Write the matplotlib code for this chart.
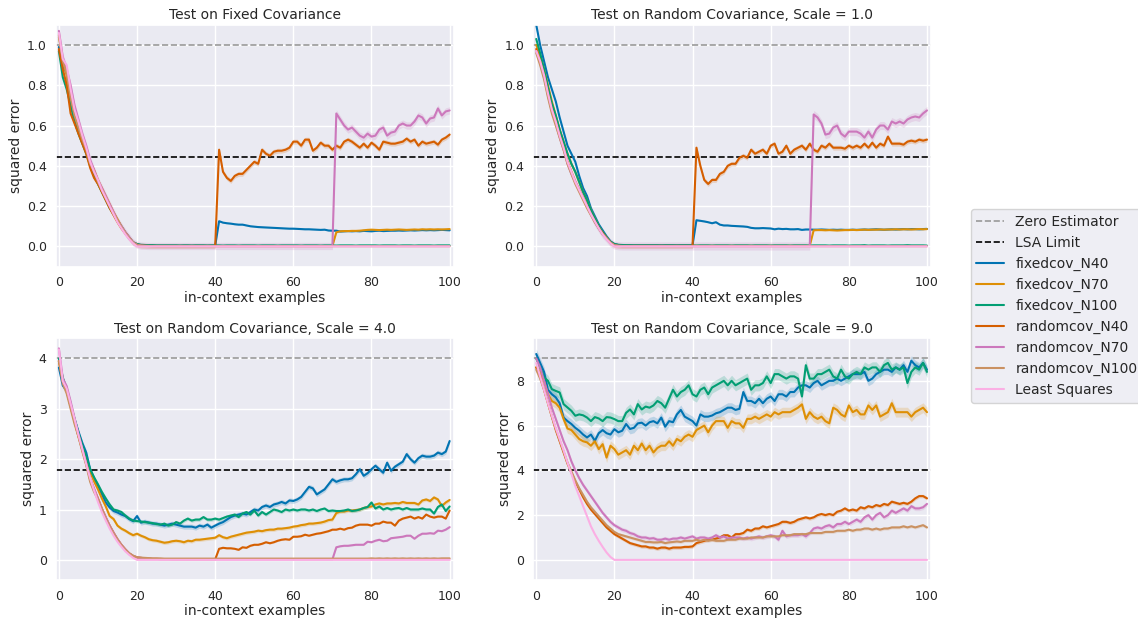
import numpy as np
import matplotlib
matplotlib.use('Agg')
import matplotlib.pyplot as plt
import seaborn as sns

sns.set_theme(style='darkgrid')
plt.rcParams['font.family'] = ['DejaVu Sans']

# in-context examples 0..100
n_examples = np.arange(101)

series_names = ['fixedcov_N40', 'fixedcov_N70', 'fixedcov_N100',
                'randomcov_N40', 'randomcov_N70', 'randomcov_N100', 'Least Squares']
colors = sns.color_palette('colorblind')[:7]

# ---------------------------------------------------------------------------
# Test on Fixed Covariance
# ---------------------------------------------------------------------------
fc_fixed40 = [
    0.99, 0.90, 0.86, 0.72, 0.63, 0.58, 0.53, 0.47, 0.41, 0.36,
    0.32, 0.28, 0.24, 0.20, 0.165, 0.13, 0.10, 0.07, 0.045, 0.02,
    0.01, 0.006, 0.005, 0.004, 0.004, 0.003, 0.003, 0.003, 0.003, 0.003,
    0.003, 0.003, 0.003, 0.003, 0.003, 0.003, 0.003, 0.003, 0.003, 0.003,
    0.003, 0.125, 0.118, 0.115, 0.113, 0.110, 0.108, 0.108, 0.104, 0.100,
    0.098, 0.096, 0.095, 0.094, 0.093, 0.092, 0.091, 0.090, 0.089, 0.088,
    0.088, 0.087, 0.086, 0.085, 0.085, 0.084, 0.083, 0.082, 0.083, 0.079,
    0.078, 0.078, 0.074, 0.075, 0.076, 0.075, 0.076, 0.075, 0.077, 0.076,
    0.075, 0.077, 0.078, 0.076, 0.077, 0.078, 0.078, 0.079, 0.078, 0.079,
    0.080, 0.079, 0.080, 0.081, 0.080, 0.081, 0.080, 0.081, 0.082, 0.081,
    0.080]
fc_fixed70 = [
    1.05, 0.92, 0.85, 0.72, 0.64, 0.59, 0.54, 0.49, 0.42, 0.38,
    0.33, 0.29, 0.25, 0.21, 0.17, 0.135, 0.10, 0.07, 0.045, 0.02,
    0.01, 0.005, 0.004, 0.003, 0.003, 0.002, 0.002, 0.002, 0.002, 0.002,
    0.002, 0.002, 0.002, 0.002, 0.002, 0.002, 0.002, 0.002, 0.002, 0.002,
    0.002, 0.002, 0.002, 0.002, 0.002, 0.002, 0.002, 0.002, 0.002, 0.002,
    0.002, 0.002, 0.002, 0.002, 0.002, 0.002, 0.002, 0.002, 0.002, 0.002,
    0.002, 0.002, 0.002, 0.002, 0.002, 0.002, 0.002, 0.002, 0.002, 0.002,
    0.002, 0.070, 0.075, 0.076, 0.076, 0.077, 0.077, 0.078, 0.080, 0.082,
    0.083, 0.082, 0.081, 0.082, 0.083, 0.082, 0.083, 0.084, 0.083, 0.082,
    0.083, 0.084, 0.083, 0.085, 0.084, 0.085, 0.084, 0.085, 0.084, 0.085,
    0.086]
fc_fixed100 = [
    0.97, 0.84, 0.78, 0.70, 0.62, 0.56, 0.51, 0.46, 0.40, 0.35,
    0.31, 0.27, 0.23, 0.19, 0.16, 0.125, 0.095, 0.065, 0.04, 0.02,
    0.012, 0.008, 0.007, 0.006, 0.006, 0.005, 0.005, 0.005, 0.005, 0.005,
    0.005, 0.004, 0.005, 0.005, 0.004, 0.005, 0.005, 0.005, 0.004, 0.005,
    0.005, 0.005, 0.004, 0.005, 0.005, 0.005, 0.004, 0.005, 0.005, 0.005,
    0.005, 0.004, 0.005, 0.005, 0.005, 0.005, 0.004, 0.005, 0.005, 0.005,
    0.005, 0.005, 0.004, 0.005, 0.005, 0.005, 0.005, 0.004, 0.005, 0.005,
    0.005, 0.004, 0.005, 0.005, 0.005, 0.005, 0.004, 0.005, 0.005, 0.005,
    0.005, 0.005, 0.004, 0.005, 0.005, 0.005, 0.005, 0.004, 0.005, 0.005,
    0.005, 0.004, 0.005, 0.005, 0.005, 0.005, 0.004, 0.005, 0.005, 0.005,
    0.005]
fc_random40 = [
    0.98, 0.88, 0.80, 0.66, 0.61, 0.56, 0.51, 0.46, 0.39, 0.34,
    0.31, 0.27, 0.23, 0.19, 0.155, 0.12, 0.09, 0.065, 0.04, 0.018,
    0.008, 0.004, 0.003, 0.002, 0.002, 0.002, 0.002, 0.002, 0.002, 0.002,
    0.002, 0.002, 0.002, 0.002, 0.002, 0.002, 0.002, 0.002, 0.002, 0.002,
    0.002, 0.48, 0.37, 0.34, 0.325, 0.35, 0.36, 0.36, 0.38, 0.40,
    0.42, 0.41, 0.48, 0.46, 0.45, 0.47, 0.475, 0.475, 0.48, 0.49,
    0.52, 0.52, 0.50, 0.53, 0.53, 0.475, 0.49, 0.515, 0.50, 0.50,
    0.48, 0.50, 0.49, 0.52, 0.53, 0.52, 0.505, 0.49, 0.51, 0.49,
    0.515, 0.50, 0.48, 0.52, 0.515, 0.51, 0.51, 0.515, 0.52, 0.535,
    0.52, 0.53, 0.50, 0.52, 0.51, 0.515, 0.52, 0.505, 0.53, 0.54,
    0.555]
fc_random70 = [
    1.07, 0.94, 0.88, 0.80, 0.70, 0.63, 0.56, 0.50, 0.43, 0.38,
    0.33, 0.29, 0.25, 0.21, 0.17, 0.13, 0.10, 0.07, 0.045, 0.02,
    0.008, 0.004, 0.003, 0.002, 0.002, 0.002, 0.002, 0.002, 0.002, 0.002,
    0.002, 0.002, 0.002, 0.002, 0.002, 0.002, 0.002, 0.002, 0.002, 0.002,
    0.002, 0.002, 0.002, 0.002, 0.002, 0.002, 0.002, 0.002, 0.002, 0.002,
    0.002, 0.002, 0.002, 0.002, 0.002, 0.002, 0.002, 0.002, 0.002, 0.002,
    0.002, 0.002, 0.002, 0.002, 0.002, 0.002, 0.002, 0.002, 0.002, 0.002,
    0.002, 0.66, 0.63, 0.60, 0.58, 0.59, 0.57, 0.55, 0.54, 0.56,
    0.545, 0.55, 0.58, 0.59, 0.55, 0.565, 0.57, 0.60, 0.61, 0.60,
    0.60, 0.62, 0.65, 0.64, 0.61, 0.635, 0.64, 0.685, 0.65, 0.67,
    0.675]
fc_random100 = [
    1.04, 0.92, 0.86, 0.74, 0.65, 0.59, 0.53, 0.48, 0.41, 0.37,
    0.32, 0.28, 0.24, 0.20, 0.16, 0.13, 0.095, 0.065, 0.04, 0.018,
    0.006, 0.003, 0.002, 0.002, 0.001, 0.001, 0.001, 0.001, 0.001, 0.001,
    0.001, 0.001, 0.001, 0.001, 0.001, 0.001, 0.001, 0.001, 0.001, 0.001,
    0.001, 0.001, 0.001, 0.001, 0.001, 0.001, 0.001, 0.001, 0.001, 0.001,
    0.001, 0.001, 0.001, 0.001, 0.001, 0.001, 0.001, 0.001, 0.001, 0.001,
    0.001, 0.001, 0.001, 0.001, 0.001, 0.001, 0.001, 0.001, 0.001, 0.001,
    0.001, 0.001, 0.001, 0.001, 0.001, 0.001, 0.001, 0.001, 0.001, 0.001,
    0.001, 0.001, 0.001, 0.001, 0.001, 0.001, 0.001, 0.001, 0.001, 0.001,
    0.001, 0.001, 0.001, 0.001, 0.001, 0.001, 0.001, 0.001, 0.001, 0.001,
    0.001]
fc_ls = [
    1.06, 0.93, 0.90, 0.78, 0.68, 0.62, 0.55, 0.49, 0.42, 0.37,
    0.33, 0.28, 0.24, 0.20, 0.16, 0.12, 0.09, 0.06, 0.035, 0.015,
    0.0, 0.0, 0.0, 0.0, 0.0, 0.0, 0.0, 0.0, 0.0, 0.0,
    0.0, 0.0, 0.0, 0.0, 0.0, 0.0, 0.0, 0.0, 0.0, 0.0,
    0.0, 0.0, 0.0, 0.0, 0.0, 0.0, 0.0, 0.0, 0.0, 0.0,
    0.0, 0.0, 0.0, 0.0, 0.0, 0.0, 0.0, 0.0, 0.0, 0.0,
    0.0, 0.0, 0.0, 0.0, 0.0, 0.0, 0.0, 0.0, 0.0, 0.0,
    0.0, 0.0, 0.0, 0.0, 0.0, 0.0, 0.0, 0.0, 0.0, 0.0,
    0.0, 0.0, 0.0, 0.0, 0.0, 0.0, 0.0, 0.0, 0.0, 0.0,
    0.0, 0.0, 0.0, 0.0, 0.0, 0.0, 0.0, 0.0, 0.0, 0.0,
    0.0]
fc_ci = [0.003, 0.003, 0.001, 0.012, 0.018, 0.001, 0.0]

# ---------------------------------------------------------------------------
# Test on Random Covariance, Scale = 1.0
# ---------------------------------------------------------------------------
s1_fixed40 = [
    1.10, 1.00, 0.92, 0.84, 0.78, 0.72, 0.64, 0.57, 0.50, 0.46,
    0.42, 0.35, 0.29, 0.25, 0.19, 0.15, 0.11, 0.08, 0.05, 0.025,
    0.012, 0.007, 0.006, 0.005, 0.005, 0.005, 0.005, 0.005, 0.005, 0.005,
    0.005, 0.005, 0.005, 0.005, 0.005, 0.005, 0.005, 0.005, 0.005, 0.005,
    0.005, 0.130, 0.127, 0.124, 0.120, 0.115, 0.120, 0.108, 0.104, 0.104,
    0.102, 0.101, 0.100, 0.099, 0.097, 0.092, 0.090, 0.090, 0.091, 0.090,
    0.089, 0.085, 0.088, 0.086, 0.087, 0.085, 0.085, 0.086, 0.082, 0.084,
    0.084, 0.083, 0.083, 0.084, 0.083, 0.082, 0.083, 0.082, 0.083, 0.082,
    0.082, 0.083, 0.082, 0.083, 0.084, 0.083, 0.084, 0.085, 0.084, 0.083,
    0.084, 0.085, 0.084, 0.085, 0.086, 0.085, 0.086, 0.086, 0.085, 0.086,
    0.087]
s1_fixed70 = [
    1.00, 0.95, 0.88, 0.80, 0.72, 0.65, 0.58, 0.52, 0.46, 0.41,
    0.37, 0.32, 0.27, 0.23, 0.18, 0.14, 0.10, 0.07, 0.045, 0.022,
    0.01, 0.005, 0.004, 0.003, 0.003, 0.003, 0.003, 0.003, 0.003, 0.003,
    0.003, 0.003, 0.003, 0.003, 0.003, 0.003, 0.003, 0.003, 0.003, 0.003,
    0.003, 0.003, 0.003, 0.003, 0.003, 0.003, 0.003, 0.003, 0.003, 0.003,
    0.003, 0.003, 0.003, 0.003, 0.003, 0.003, 0.003, 0.003, 0.003, 0.003,
    0.003, 0.003, 0.003, 0.003, 0.003, 0.003, 0.003, 0.003, 0.003, 0.003,
    0.003, 0.080, 0.081, 0.081, 0.080, 0.081, 0.080, 0.079, 0.080, 0.081,
    0.081, 0.082, 0.081, 0.082, 0.083, 0.082, 0.083, 0.083, 0.084, 0.083,
    0.084, 0.084, 0.085, 0.084, 0.085, 0.085, 0.084, 0.085, 0.086, 0.085,
    0.086]
s1_fixed100 = [
    1.03, 0.96, 0.88, 0.79, 0.71, 0.65, 0.58, 0.52, 0.46, 0.41,
    0.37, 0.32, 0.27, 0.23, 0.18, 0.14, 0.10, 0.07, 0.045, 0.022,
    0.012, 0.008, 0.007, 0.006, 0.006, 0.005, 0.005, 0.005, 0.005, 0.005,
    0.005, 0.005, 0.004, 0.005, 0.005, 0.005, 0.004, 0.005, 0.005, 0.005,
    0.005, 0.004, 0.005, 0.005, 0.005, 0.004, 0.005, 0.005, 0.005, 0.005,
    0.004, 0.005, 0.005, 0.005, 0.005, 0.004, 0.005, 0.005, 0.005, 0.005,
    0.004, 0.005, 0.005, 0.005, 0.005, 0.004, 0.005, 0.005, 0.005, 0.005,
    0.004, 0.005, 0.005, 0.005, 0.005, 0.004, 0.005, 0.005, 0.005, 0.005,
    0.004, 0.005, 0.005, 0.005, 0.006, 0.004, 0.005, 0.005, 0.005, 0.005,
    0.004, 0.005, 0.005, 0.005, 0.005, 0.006, 0.005, 0.005, 0.005, 0.005,
    0.004]
s1_random40 = [
    0.98, 0.92, 0.85, 0.76, 0.68, 0.62, 0.55, 0.49, 0.42, 0.37,
    0.32, 0.28, 0.24, 0.20, 0.16, 0.125, 0.09, 0.065, 0.04, 0.018,
    0.006, 0.003, 0.002, 0.002, 0.002, 0.002, 0.002, 0.002, 0.002, 0.002,
    0.002, 0.002, 0.002, 0.002, 0.002, 0.002, 0.002, 0.002, 0.002, 0.002,
    0.002, 0.49, 0.40, 0.33, 0.31, 0.33, 0.33, 0.36, 0.37, 0.40,
    0.41, 0.41, 0.44, 0.45, 0.44, 0.48, 0.46, 0.47, 0.48, 0.46,
    0.50, 0.51, 0.46, 0.47, 0.50, 0.46, 0.48, 0.49, 0.50, 0.48,
    0.51, 0.48, 0.47, 0.50, 0.49, 0.51, 0.49, 0.49, 0.49, 0.485,
    0.50, 0.49, 0.50, 0.49, 0.51, 0.49, 0.515, 0.49, 0.51, 0.50,
    0.545, 0.51, 0.51, 0.51, 0.505, 0.52, 0.525, 0.52, 0.53, 0.525,
    0.53]
s1_random70 = [
    0.97, 0.91, 0.84, 0.75, 0.67, 0.61, 0.54, 0.48, 0.41, 0.36,
    0.32, 0.28, 0.24, 0.20, 0.16, 0.12, 0.09, 0.06, 0.04, 0.018,
    0.006, 0.003, 0.002, 0.002, 0.002, 0.002, 0.002, 0.002, 0.002, 0.002,
    0.002, 0.002, 0.002, 0.002, 0.002, 0.002, 0.002, 0.002, 0.002, 0.002,
    0.002, 0.002, 0.002, 0.002, 0.002, 0.002, 0.002, 0.002, 0.002, 0.002,
    0.002, 0.002, 0.002, 0.002, 0.002, 0.002, 0.002, 0.002, 0.002, 0.002,
    0.002, 0.002, 0.002, 0.002, 0.002, 0.002, 0.002, 0.002, 0.002, 0.002,
    0.002, 0.655, 0.64, 0.61, 0.555, 0.56, 0.59, 0.60, 0.56, 0.545,
    0.57, 0.57, 0.57, 0.56, 0.54, 0.57, 0.54, 0.58, 0.60, 0.60,
    0.58, 0.62, 0.61, 0.62, 0.61, 0.63, 0.64, 0.645, 0.64, 0.66,
    0.675]
s1_random100 = [
    0.96, 0.90, 0.83, 0.74, 0.66, 0.60, 0.54, 0.48, 0.41, 0.36,
    0.31, 0.27, 0.23, 0.19, 0.155, 0.12, 0.09, 0.06, 0.04, 0.018,
    0.005, 0.002, 0.001, 0.001, 0.001, 0.001, 0.001, 0.001, 0.001, 0.001,
    0.001, 0.001, 0.001, 0.001, 0.001, 0.001, 0.001, 0.001, 0.001, 0.001,
    0.001, 0.001, 0.001, 0.001, 0.001, 0.001, 0.001, 0.001, 0.001, 0.001,
    0.001, 0.001, 0.001, 0.001, 0.001, 0.001, 0.001, 0.001, 0.001, 0.001,
    0.001, 0.001, 0.001, 0.001, 0.001, 0.001, 0.001, 0.001, 0.001, 0.001,
    0.001, 0.001, 0.001, 0.001, 0.001, 0.001, 0.001, 0.001, 0.001, 0.001,
    0.001, 0.001, 0.001, 0.001, 0.001, 0.001, 0.001, 0.001, 0.001, 0.001,
    0.001, 0.001, 0.001, 0.001, 0.001, 0.001, 0.001, 0.001, 0.001, 0.001,
    0.001]
s1_ls = [
    0.97, 0.92, 0.85, 0.76, 0.68, 0.62, 0.55, 0.49, 0.42, 0.37,
    0.32, 0.28, 0.24, 0.20, 0.16, 0.125, 0.09, 0.06, 0.035, 0.015,
    0.0, 0.0, 0.0, 0.0, 0.0, 0.0, 0.0, 0.0, 0.0, 0.0,
    0.0, 0.0, 0.0, 0.0, 0.0, 0.0, 0.0, 0.0, 0.0, 0.0,
    0.0, 0.0, 0.0, 0.0, 0.0, 0.0, 0.0, 0.0, 0.0, 0.0,
    0.0, 0.0, 0.0, 0.0, 0.0, 0.0, 0.0, 0.0, 0.0, 0.0,
    0.0, 0.0, 0.0, 0.0, 0.0, 0.0, 0.0, 0.0, 0.0, 0.0,
    0.0, 0.0, 0.0, 0.0, 0.0, 0.0, 0.0, 0.0, 0.0, 0.0,
    0.0, 0.0, 0.0, 0.0, 0.0, 0.0, 0.0, 0.0, 0.0, 0.0,
    0.0, 0.0, 0.0, 0.0, 0.0, 0.0, 0.0, 0.0, 0.0, 0.0,
    0.0]
s1_ci = [0.003, 0.003, 0.001, 0.012, 0.02, 0.001, 0.0]

# ---------------------------------------------------------------------------
# Test on Random Covariance, Scale = 4.0
# ---------------------------------------------------------------------------
s4_fixed40 = [
    3.82, 3.46, 3.36, 3.06, 2.80, 2.55, 2.32, 2.13, 1.80, 1.62,
    1.47, 1.30, 1.14, 1.04, 0.97, 0.94, 0.90, 0.87, 0.81, 0.77,
    0.87, 0.74, 0.76, 0.74, 0.72, 0.72, 0.70, 0.68, 0.70, 0.72,
    0.70, 0.68, 0.66, 0.66, 0.66, 0.64, 0.68, 0.66, 0.70, 0.64,
    0.68, 0.72, 0.75, 0.80, 0.85, 0.88, 0.90, 0.92, 0.90, 0.95,
    1.00, 0.98, 1.05, 1.08, 1.05, 1.10, 1.12, 1.15, 1.12, 1.18,
    1.17, 1.20, 1.25, 1.35, 1.45, 1.42, 1.30, 1.35, 1.40, 1.50,
    1.60, 1.55, 1.58, 1.60, 1.60, 1.62, 1.70, 1.80, 1.67, 1.72,
    1.80, 1.87, 1.80, 1.73, 1.93, 1.77, 1.85, 1.90, 1.95, 2.10,
    2.00, 1.93, 2.02, 2.07, 2.05, 2.05, 2.07, 2.13, 2.10, 2.15,
    2.36]
s4_fixed70 = [
    3.95, 3.60, 3.35, 3.05, 2.75, 2.48, 2.22, 1.98, 1.75, 1.56,
    1.40, 1.22, 1.06, 0.87, 0.81, 0.68, 0.62, 0.58, 0.53, 0.49,
    0.52, 0.48, 0.45, 0.41, 0.39, 0.38, 0.36, 0.34, 0.35, 0.37,
    0.38, 0.37, 0.35, 0.38, 0.37, 0.40, 0.40, 0.41, 0.42, 0.43,
    0.44, 0.49, 0.45, 0.43, 0.46, 0.48, 0.50, 0.52, 0.54, 0.55,
    0.56, 0.58, 0.57, 0.59, 0.60, 0.60, 0.62, 0.62, 0.63, 0.64,
    0.66, 0.67, 0.69, 0.70, 0.72, 0.72, 0.73, 0.74, 0.76, 0.79,
    0.80, 0.93, 0.96, 0.96, 0.98, 0.98, 0.99, 1.00, 1.03, 1.05,
    1.06, 1.10, 1.12, 1.10, 1.12, 1.12, 1.13, 1.12, 1.15, 1.13,
    1.13, 1.13, 1.10, 1.18, 1.20, 1.17, 1.24, 1.20, 1.07, 1.14,
    1.19]
s4_fixed100 = [
    4.00, 3.62, 3.40, 3.10, 2.80, 2.52, 2.28, 2.05, 1.80, 1.64,
    1.50, 1.35, 1.22, 1.10, 1.00, 0.98, 0.95, 0.88, 0.82, 0.78,
    0.77, 0.76, 0.75, 0.74, 0.73, 0.71, 0.70, 0.72, 0.68, 0.70,
    0.75, 0.72, 0.78, 0.82, 0.78, 0.80, 0.80, 0.85, 0.80, 0.80,
    0.82, 0.80, 0.83, 0.86, 0.88, 0.90, 0.85, 0.92, 0.95, 0.90,
    0.98, 0.88, 0.95, 0.90, 0.95, 1.00, 0.98, 0.95, 1.00, 0.98,
    1.00, 0.98, 1.00, 1.00, 0.98, 1.00, 0.97, 1.00, 1.02, 0.97,
    0.98, 0.97, 0.97, 0.98, 1.00, 0.97, 0.98, 1.00, 1.03, 1.05,
    1.14, 1.02, 1.06, 1.00, 1.03, 1.00, 1.02, 1.03, 1.00, 1.03,
    1.00, 1.00, 1.00, 1.02, 1.00, 1.00, 0.92, 1.05, 1.10, 0.97,
    1.06]
s4_random40 = [
    3.95, 3.55, 3.35, 3.05, 2.75, 2.45, 2.18, 1.90, 1.60, 1.40,
    1.22, 1.02, 0.84, 0.68, 0.54, 0.41, 0.30, 0.21, 0.13, 0.08,
    0.05, 0.04, 0.03, 0.025, 0.02, 0.02, 0.015, 0.015, 0.015, 0.01,
    0.01, 0.01, 0.01, 0.01, 0.01, 0.01, 0.01, 0.01, 0.01, 0.01,
    0.01, 0.22, 0.24, 0.23, 0.23, 0.22, 0.20, 0.25, 0.24, 0.28,
    0.30, 0.30, 0.32, 0.35, 0.33, 0.35, 0.38, 0.40, 0.41, 0.40,
    0.46, 0.46, 0.47, 0.50, 0.48, 0.50, 0.52, 0.53, 0.55, 0.57,
    0.60, 0.60, 0.62, 0.60, 0.63, 0.64, 0.68, 0.70, 0.70, 0.70,
    0.68, 0.72, 0.72, 0.76, 0.74, 0.74, 0.68, 0.78, 0.82, 0.84,
    0.86, 0.82, 0.85, 0.82, 0.90, 0.86, 0.84, 0.86, 0.86, 0.82,
    0.98]
s4_random70 = [
    4.20, 3.60, 3.45, 3.15, 2.82, 2.50, 2.20, 1.92, 1.62, 1.42,
    1.22, 1.02, 0.85, 0.68, 0.54, 0.41, 0.30, 0.21, 0.13, 0.08,
    0.05, 0.04, 0.03, 0.025, 0.02, 0.02, 0.015, 0.015, 0.015, 0.01,
    0.01, 0.01, 0.01, 0.01, 0.01, 0.01, 0.01, 0.01, 0.01, 0.01,
    0.01, 0.01, 0.01, 0.01, 0.01, 0.01, 0.01, 0.01, 0.01, 0.01,
    0.01, 0.01, 0.01, 0.01, 0.01, 0.01, 0.01, 0.01, 0.01, 0.01,
    0.01, 0.01, 0.01, 0.01, 0.01, 0.01, 0.01, 0.01, 0.01, 0.01,
    0.01, 0.25, 0.27, 0.28, 0.28, 0.29, 0.30, 0.30, 0.30, 0.36,
    0.35, 0.38, 0.40, 0.37, 0.38, 0.43, 0.44, 0.45, 0.46, 0.48,
    0.48, 0.42, 0.48, 0.52, 0.52, 0.53, 0.52, 0.58, 0.57, 0.60,
    0.65]
s4_random100 = [
    3.95, 3.50, 3.30, 3.00, 2.70, 2.45, 2.15, 1.88, 1.55, 1.35,
    1.20, 1.00, 0.82, 0.66, 0.52, 0.40, 0.29, 0.20, 0.13, 0.08,
    0.05, 0.045, 0.04, 0.035, 0.03, 0.03, 0.03, 0.025, 0.025, 0.025,
    0.025, 0.025, 0.025, 0.025, 0.025, 0.025, 0.025, 0.025, 0.025, 0.025,
    0.025, 0.025, 0.025, 0.025, 0.025, 0.025, 0.025, 0.025, 0.025, 0.025,
    0.025, 0.025, 0.025, 0.025, 0.025, 0.025, 0.025, 0.025, 0.025, 0.025,
    0.025, 0.025, 0.025, 0.025, 0.025, 0.025, 0.025, 0.025, 0.025, 0.025,
    0.025, 0.025, 0.025, 0.025, 0.025, 0.025, 0.025, 0.025, 0.025, 0.025,
    0.03, 0.025, 0.03, 0.025, 0.03, 0.025, 0.03, 0.025, 0.03, 0.025,
    0.03, 0.025, 0.03, 0.025, 0.03, 0.025, 0.03, 0.025, 0.03, 0.03,
    0.03]
s4_ls = [
    4.18, 3.55, 3.40, 3.10, 2.80, 2.48, 2.20, 1.90, 1.62, 1.38,
    1.15, 0.95, 0.78, 0.62, 0.48, 0.36, 0.26, 0.17, 0.10, 0.04,
    0.0, 0.0, 0.0, 0.0, 0.0, 0.0, 0.0, 0.0, 0.0, 0.0,
    0.0, 0.0, 0.0, 0.0, 0.0, 0.0, 0.0, 0.0, 0.0, 0.0,
    0.0, 0.0, 0.0, 0.0, 0.0, 0.0, 0.0, 0.0, 0.0, 0.0,
    0.0, 0.0, 0.0, 0.0, 0.0, 0.0, 0.0, 0.0, 0.0, 0.0,
    0.0, 0.0, 0.0, 0.0, 0.0, 0.0, 0.0, 0.0, 0.0, 0.0,
    0.0, 0.0, 0.0, 0.0, 0.0, 0.0, 0.0, 0.0, 0.0, 0.0,
    0.0, 0.0, 0.0, 0.0, 0.0, 0.0, 0.0, 0.0, 0.0, 0.0,
    0.0, 0.0, 0.0, 0.0, 0.0, 0.0, 0.0, 0.0, 0.0, 0.0,
    0.0]
s4_ci = [0.05, 0.035, 0.035, 0.015, 0.015, 0.005, 0.0]

# ---------------------------------------------------------------------------
# Test on Random Covariance, Scale = 9.0
# ---------------------------------------------------------------------------
s9_fixed40 = [
    9.20, 8.80, 8.40, 7.60, 7.40, 7.26, 7.00, 6.36, 6.20, 6.07,
    5.90, 5.77, 5.60, 5.47, 5.60, 5.32, 5.66, 5.80, 5.66, 5.60,
    5.84, 5.70, 5.77, 6.07, 5.85, 5.90, 6.10, 6.13, 6.00, 6.15,
    6.20, 6.10, 6.36, 5.95, 6.20, 6.15, 6.50, 6.70, 6.40, 6.30,
    6.20, 6.00, 6.50, 6.40, 6.40, 6.45, 6.55, 6.60, 6.70, 6.80,
    6.80, 6.70, 6.75, 7.50, 7.10, 7.10, 7.00, 7.20, 7.00, 7.20,
    7.30, 7.10, 7.40, 7.40, 7.30, 7.50, 7.50, 7.70, 7.80, 7.80,
    7.70, 7.90, 8.00, 7.80, 7.90, 8.00, 8.00, 8.10, 8.00, 8.10,
    8.20, 8.30, 8.30, 8.30, 8.40, 8.00, 8.10, 8.30, 8.40, 8.50,
    8.50, 8.40, 8.60, 8.50, 8.70, 8.40, 8.90, 8.70, 8.60, 8.80,
    8.50]
s9_fixed70 = [
    8.60, 8.40, 8.00, 7.40, 7.10, 7.00, 6.80, 6.30, 5.87, 5.80,
    5.60, 5.40, 5.30, 5.25, 5.10, 5.30, 4.95, 5.17, 4.57, 5.10,
    4.95, 4.70, 4.80, 4.90, 4.70, 5.10, 4.90, 5.20, 4.90, 5.10,
    4.80, 5.00, 5.10, 5.10, 5.30, 5.10, 5.40, 5.30, 5.50, 5.60,
    5.50, 5.80, 5.90, 6.00, 5.70, 6.00, 6.20, 6.20, 6.20, 5.90,
    6.20, 6.10, 6.10, 5.90, 6.30, 6.30, 6.40, 6.30, 6.40, 6.50,
    6.40, 6.60, 6.50, 6.60, 6.60, 6.60, 6.70, 6.80, 6.95, 6.30,
    6.60, 6.40, 6.30, 6.40, 6.20, 6.10, 6.80, 6.70, 6.50, 6.40,
    6.90, 6.60, 6.70, 6.50, 6.50, 6.90, 6.70, 6.90, 6.40, 6.50,
    6.60, 7.00, 6.60, 6.60, 6.60, 6.60, 6.40, 6.60, 6.70, 6.80,
    6.60]
s9_fixed100 = [
    9.00, 8.60, 8.15, 8.00, 7.63, 7.55, 7.48, 6.96, 6.81, 6.66,
    6.44, 6.50, 6.46, 6.36, 6.20, 6.38, 6.32, 6.20, 6.38, 6.36,
    6.29, 6.20, 6.20, 6.57, 6.72, 6.50, 6.96, 6.72, 6.85, 6.80,
    6.90, 7.10, 7.00, 6.80, 7.20, 7.60, 7.30, 7.50, 7.60, 7.80,
    7.40, 7.30, 7.60, 7.70, 7.40, 7.70, 7.80, 7.90, 8.00, 7.80,
    8.00, 7.80, 7.90, 8.00, 8.10, 7.60, 7.80, 7.80, 7.90, 8.20,
    7.90, 8.30, 8.30, 8.20, 8.10, 8.20, 8.20, 8.10, 7.30, 8.70,
    8.10, 8.10, 8.30, 8.30, 8.40, 8.50, 8.20, 8.10, 8.50, 8.20,
    8.10, 8.30, 8.40, 8.30, 8.60, 8.50, 8.60, 8.60, 8.40, 8.70,
    8.80, 8.50, 8.60, 8.50, 8.60, 7.90, 8.40, 8.60, 8.50, 8.80,
    8.40]
s9_random40 = [
    8.60, 8.20, 7.60, 7.00, 6.40, 5.80, 5.30, 4.80, 4.30, 3.90,
    3.50, 3.15, 2.80, 2.50, 2.25, 2.05, 1.85, 1.65, 1.45, 1.30,
    1.15, 1.05, 0.95, 0.85, 0.75, 0.70, 0.65, 0.60, 0.60, 0.55,
    0.55, 0.50, 0.55, 0.55, 0.50, 0.55, 0.55, 0.55, 0.58, 0.58,
    0.60, 0.75, 0.80, 0.85, 0.90, 0.90, 0.95, 1.00, 1.10, 1.10,
    1.00, 1.15, 1.15, 1.20, 1.35, 1.30, 1.40, 1.40, 1.50, 1.45,
    1.50, 1.55, 1.60, 1.70, 1.70, 1.65, 1.70, 1.80, 1.85, 1.90,
    1.85, 1.90, 2.00, 2.05, 2.00, 2.05, 2.00, 2.15, 2.20, 2.30,
    2.20, 2.25, 2.20, 2.35, 2.30, 2.40, 2.35, 2.45, 2.40, 2.50,
    2.45, 2.60, 2.55, 2.50, 2.55, 2.50, 2.60, 2.75, 2.85, 2.85,
    2.75]
s9_random70 = [
    9.00, 8.60, 8.00, 7.40, 6.80, 6.30, 5.80, 5.30, 4.90, 4.40,
    4.00, 3.65, 3.35, 3.10, 2.85, 2.60, 2.35, 2.10, 1.90, 1.70,
    1.55, 1.45, 1.35, 1.30, 1.20, 1.15, 1.05, 1.00, 1.00, 0.95,
    0.97, 0.90, 0.90, 0.95, 0.90, 0.95, 0.95, 1.00, 0.95, 1.00,
    1.05, 0.95, 1.00, 1.00, 0.95, 1.00, 1.10, 1.00, 1.05, 0.95,
    1.00, 1.00, 1.00, 0.95, 1.00, 0.95, 1.00, 1.05, 1.00, 1.05,
    1.10, 1.05, 0.90, 1.30, 1.05, 1.10, 1.10, 1.10, 1.15, 1.05,
    1.20, 1.40, 1.45, 1.40, 1.50, 1.55, 1.45, 1.60, 1.60, 1.70,
    1.60, 1.70, 1.80, 1.70, 1.90, 2.00, 1.80, 2.00, 2.10, 1.90,
    2.00, 2.20, 2.10, 2.20, 2.30, 2.20, 2.40, 2.30, 2.30, 2.35,
    2.50]
s9_random100 = [
    8.50, 8.10, 7.60, 7.00, 6.40, 5.85, 5.35, 4.85, 4.35, 3.95,
    3.55, 3.20, 2.90, 2.60, 2.35, 2.15, 1.95, 1.75, 1.55, 1.40,
    1.25, 1.15, 1.10, 1.05, 1.00, 0.95, 0.90, 0.85, 0.80, 0.80,
    0.78, 0.78, 0.80, 0.75, 0.78, 0.80, 0.82, 0.80, 0.85, 0.85,
    0.85, 0.90, 0.85, 0.90, 0.85, 0.90, 0.85, 0.85, 0.85, 0.90,
    0.90, 0.90, 0.95, 0.95, 0.95, 1.00, 1.00, 1.00, 1.00, 1.05,
    1.05, 1.05, 1.05, 1.10, 1.10, 1.10, 1.15, 1.15, 1.15, 1.15,
    1.20, 1.20, 1.20, 1.20, 1.25, 1.25, 1.25, 1.30, 1.30, 1.30,
    1.35, 1.30, 1.35, 1.35, 1.40, 1.40, 1.35, 1.40, 1.35, 1.40,
    1.40, 1.45, 1.45, 1.45, 1.50, 1.45, 1.50, 1.45, 1.50, 1.55,
    1.45]
s9_ls = [
    8.80, 8.20, 7.60, 7.00, 6.45, 5.90, 5.40, 4.90, 4.35, 3.85,
    3.30, 2.85, 2.40, 1.95, 1.50, 1.15, 0.85, 0.58, 0.33, 0.13,
    0.0, 0.0, 0.0, 0.0, 0.0, 0.0, 0.0, 0.0, 0.0, 0.0,
    0.0, 0.0, 0.0, 0.0, 0.0, 0.0, 0.0, 0.0, 0.0, 0.0,
    0.0, 0.0, 0.0, 0.0, 0.0, 0.0, 0.0, 0.0, 0.0, 0.0,
    0.0, 0.0, 0.0, 0.0, 0.0, 0.0, 0.0, 0.0, 0.0, 0.0,
    0.0, 0.0, 0.0, 0.0, 0.0, 0.0, 0.0, 0.0, 0.0, 0.0,
    0.0, 0.0, 0.0, 0.0, 0.0, 0.0, 0.0, 0.0, 0.0, 0.0,
    0.0, 0.0, 0.0, 0.0, 0.0, 0.0, 0.0, 0.0, 0.0, 0.0,
    0.0, 0.0, 0.0, 0.0, 0.0, 0.0, 0.0, 0.0, 0.0, 0.0,
    0.0]
s9_ci = [0.22, 0.22, 0.25, 0.08, 0.10, 0.07, 0.0]

# reference lines per panel
titles = ['Test on Fixed Covariance',
          'Test on Random Covariance, Scale = 1.0',
          'Test on Random Covariance, Scale = 4.0',
          'Test on Random Covariance, Scale = 9.0']
scales = [1.0, 1.0, 4.0, 9.0]
zero_estimator = [1.0, 1.0, 4.0, 9.0]
lsa_limit = [0.444, 0.444, 1.778, 4.0]
yticks = [[0.0, 0.2, 0.4, 0.6, 0.8, 1.0],
          [0.0, 0.2, 0.4, 0.6, 0.8, 1.0],
          [0, 1, 2, 3, 4],
          [0, 2, 4, 6, 8]]
ytick_labels = [['0.0', '0.2', '0.4', '0.6', '0.8', '1.0'],
                ['0.0', '0.2', '0.4', '0.6', '0.8', '1.0'],
                ['0', '1', '2', '3', '4'],
                ['0', '2', '4', '6', '8']]

panel_series = [
    [fc_fixed40, fc_fixed70, fc_fixed100, fc_random40, fc_random70, fc_random100, fc_ls],
    [s1_fixed40, s1_fixed70, s1_fixed100, s1_random40, s1_random70, s1_random100, s1_ls],
    [s4_fixed40, s4_fixed70, s4_fixed100, s4_random40, s4_random70, s4_random100, s4_ls],
    [s9_fixed40, s9_fixed70, s9_fixed100, s9_random40, s9_random70, s9_random100, s9_ls],
]
panel_ci = [fc_ci, s1_ci, s4_ci, s9_ci]

for p, group in enumerate(panel_series):
    for k, s in enumerate(group):
        if len(s) != 101:
            raise ValueError(f'panel {p} series {k} has {len(s)} values')

fig, axes = plt.subplots(2, 2, figsize=(11.38, 6.21), dpi=100)
fig.subplots_adjust(left=0.049, right=0.818, top=0.960, bottom=0.066,
                    wspace=0.20, hspace=0.297)

for i, ax in enumerate(axes.flat):
    ax.axhline(zero_estimator[i], color='#999999', linestyle='--', linewidth=1.2,
               label='Zero Estimator')
    ax.axhline(lsa_limit[i], color='black', linestyle='--', linewidth=1.2,
               label='LSA Limit')
    for k, vals in enumerate(panel_series[i]):
        y = np.array(vals)
        ci = panel_ci[i][k]
        if ci > 0:
            ax.fill_between(n_examples, y - ci, y + ci, color=colors[k],
                            alpha=0.2, linewidth=0)
        ax.plot(n_examples, y, color=colors[k], linewidth=1.5,
                label=series_names[k])

    s = scales[i]
    ax.set_xlim(-0.8, 101)
    ax.set_ylim(-0.1 * s, 1.1 * s)
    ax.set_xticks([0, 20, 40, 60, 80, 100])
    ax.set_yticks(yticks[i])
    ax.set_yticklabels(ytick_labels[i])
    ax.tick_params(axis='y', labelsize=9, pad=0.5)
    ax.tick_params(axis='x', labelsize=9, pad=1)
    ax.set_title(titles[i], fontsize=10, pad=4)
    ax.set_xlabel('in-context examples', fontsize=10, labelpad=1)
    ax.set_ylabel('squared error', fontsize=10, labelpad=3)

handles, labels = axes[0, 0].get_legend_handles_labels()
fig.legend(handles, labels, loc='center left', bbox_to_anchor=(0.847, 0.507),
           fontsize=10, frameon=True)

plt.savefig('out.png', dpi=100)
